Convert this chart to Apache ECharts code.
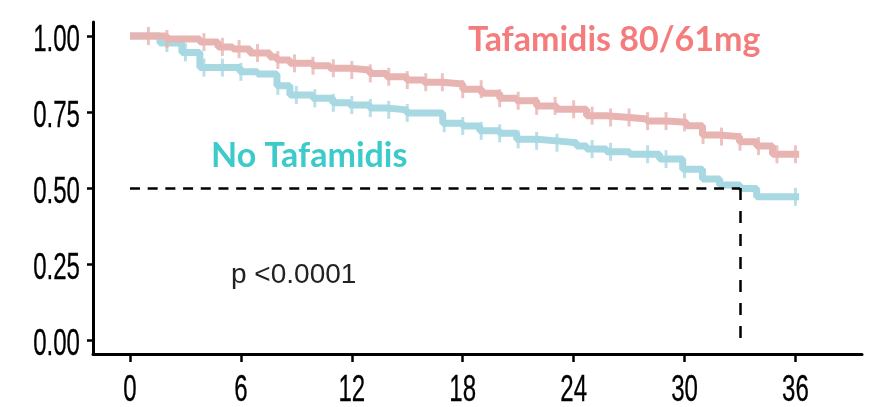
<!DOCTYPE html>
<html>
<head>
<meta charset="utf-8">
<script src="https://cdn.jsdelivr.net/npm/echarts@6/dist/echarts.min.js"></script>
<style>
  html, body { margin: 0; padding: 0; background: #fff; }
  #chart { width: 874px; height: 407px; }
</style>
</head>
<body>
<div id="chart"></div>
<script>
// Axis ticks
const monthTicks = [0, 6, 12, 18, 24, 30, 36];
const survivalTicks = [0, 0.25, 0.5, 0.75, 1];

// Kaplan-Meier steps: Tafamidis 80/61mg
const tafTimes = [0, 2.0, 3.78, 4.76, 5.57, 6.49, 7.57, 7.95, 8.65, 9.89, 10.81, 11.89, 12.97, 13.89, 14.97, 15.9, 16.92, 18.0, 19.03, 20.0, 20.92, 22.0, 23.08, 24.7, 25.78, 27.03, 27.95, 29.03, 30.1, 30.97, 31.9, 32.97, 33.9, 34.76, 36.2];
const tafSurv = [1.0, 0.990, 0.980, 0.964, 0.957, 0.944, 0.931, 0.921, 0.910, 0.902, 0.894, 0.888, 0.877, 0.866, 0.855, 0.848, 0.842, 0.825, 0.812, 0.795, 0.787, 0.770, 0.759, 0.738, 0.732, 0.727, 0.720, 0.716, 0.705, 0.674, 0.669, 0.652, 0.638, 0.611, 0.611];
const tafCensored = [1, 2, 4, 5, 5.9, 6.9, 8, 8.9, 9.9, 11, 12, 13, 14, 15, 16, 16.9, 18, 19, 20, 21, 22, 23, 24, 25, 26, 27, 28, 29, 30, 31, 32, 33, 34, 35, 36];

// Kaplan-Meier steps: No Tafamidis
const noTimes = [0, 1.62, 2.81, 3.78, 5.95, 6.9, 7.95, 8.65, 9.89, 10.97, 11.89, 12.97, 13.89, 14.97, 16.92, 18.0, 18.92, 20.0, 20.92, 22.0, 23.08, 24.16, 24.7, 25.78, 27.03, 28.65, 29.9, 30.97, 31.9, 33.0, 33.9, 36.2];
const noSurv = [1.0, 0.977, 0.946, 0.896, 0.882, 0.875, 0.836, 0.806, 0.795, 0.780, 0.773, 0.763, 0.757, 0.747, 0.713, 0.704, 0.688, 0.680, 0.660, 0.655, 0.649, 0.638, 0.628, 0.619, 0.611, 0.595, 0.562, 0.530, 0.510, 0.498, 0.471, 0.471];
const noCensored = [2, 3, 4, 5, 6, 8, 9, 10, 11, 12, 13, 14, 15, 17, 18, 19, 20, 21, 22, 23.1, 25, 26, 28, 29, 30, 36];

// Median survival reference for the untreated group
const medianMonth = 33;
const medianLevel = 0.5;

const pink = '#E8B4B2';
const blue = '#A8D8E2';

function stepSeries(times, surv) {
  return times.map((t, i) => [t, surv[i]]);
}
function survivalAt(times, surv, t) {
  let v = surv[0];
  for (let i = 0; i < times.length; i++) {
    if (times[i] <= t) v = surv[i];
  }
  return v;
}
function censorPoints(times, surv, cens) {
  return cens.map(t => [t, survivalAt(times, surv, t)]);
}

// Condensed tick-label look: regular sans squeezed horizontally
const tickFont = "37px 'Liberation Sans', Arial, sans-serif";
const tickSqueeze = 0.65;

const chart = echarts.init(document.getElementById('chart'), null, { renderer: 'canvas' });
chart.setOption({
  animation: false,
  backgroundColor: '#fff',
  grid: { left: 93, right: 12, top: 22, bottom: 53, containLabel: false },
  xAxis: {
    type: 'value',
    min: -2,
    max: 39.6,
    axisLine: { show: true, onZero: false, lineStyle: { color: '#000', width: 3 } },
    axisTick: { show: true, customValues: monthTicks, length: 8, lineStyle: { color: '#000', width: 2.5 } },
    axisLabel: { show: false },
    splitLine: { show: false }
  },
  yAxis: {
    type: 'value',
    min: -0.046,
    max: 1.046,
    axisLine: { show: true, onZero: false, lineStyle: { color: '#000', width: 3 } },
    axisTick: { show: true, customValues: survivalTicks, length: 6, lineStyle: { color: '#000', width: 2.5 } },
    axisLabel: { show: false },
    splitLine: { show: false }
  },
  series: [
    {
      name: 'No Tafamidis',
      type: 'line',
      step: 'end',
      showSymbol: false,
      data: stepSeries(noTimes, noSurv),
      lineStyle: { color: blue, width: 7 },
      z: 2,
      markLine: {
        silent: true,
        symbol: 'none',
        label: { show: false },
        data: [
          [{ coord: [0, medianLevel], lineStyle: { type: [10, 7.7] } }, { coord: [medianMonth, medianLevel] }],
          [{ coord: [medianMonth, medianLevel], lineStyle: { type: [12, 11] } }, { coord: [medianMonth, 0] }]
        ],
        lineStyle: { color: '#000', width: 2.5 }
      }
    },
    {
      name: 'No Tafamidis censored',
      type: 'scatter',
      symbol: 'rect',
      symbolSize: [3, 18],
      itemStyle: { color: blue },
      data: censorPoints(noTimes, noSurv, noCensored),
      z: 3
    },
    {
      name: 'Tafamidis 80/61mg',
      type: 'line',
      step: 'end',
      showSymbol: false,
      data: stepSeries(tafTimes, tafSurv),
      lineStyle: { color: pink, width: 7 },
      z: 4
    },
    {
      name: 'Tafamidis censored',
      type: 'scatter',
      symbol: 'rect',
      symbolSize: [3, 18],
      itemStyle: { color: pink },
      data: censorPoints(tafTimes, tafSurv, tafCensored),
      z: 5
    }
  ]
});

// Tick labels placed through the axis scales
const tickLabels = [];
monthTicks.forEach(m => {
  const x = chart.convertToPixel({ xAxisIndex: 0 }, m);
  const y0 = chart.convertToPixel({ yAxisIndex: 0 }, -0.046);
  tickLabels.push({
    type: 'text', x: x, y: y0 + 37, scaleX: tickSqueeze, silent: true,
    style: { text: String(m), fill: '#000', stroke: '#000', lineWidth: 0.3, font: tickFont, align: 'center', verticalAlign: 'middle' }
  });
});
survivalTicks.forEach(s => {
  const y = chart.convertToPixel({ yAxisIndex: 0 }, s);
  const x0 = chart.convertToPixel({ xAxisIndex: 0 }, -2);
  tickLabels.push({
    type: 'text', x: x0 - 13, y: y + 5, scaleX: tickSqueeze, silent: true,
    style: { text: s.toFixed(2), fill: '#000', stroke: '#000', lineWidth: 0.3, font: tickFont, align: 'right', verticalAlign: 'middle' }
  });
});

chart.setOption({
  graphic: tickLabels.concat([
    { type: 'text', left: 468, top: 23, style: { text: 'Tafamidis 80/61mg', fill: '#F47C7C', font: "bold 34px Lato, 'Open Sans', sans-serif" } },
    { type: 'text', left: 211, top: 139, style: { text: 'No Tafamidis', fill: '#3CCACA', font: "bold 34px Lato, 'Open Sans', sans-serif" } },
    { type: 'text', left: 231, top: 261, style: { text: 'p <0.0001', fill: '#222', font: "28px 'Liberation Sans', Arial, sans-serif" } }
  ])
});
</script>
</body>
</html>
